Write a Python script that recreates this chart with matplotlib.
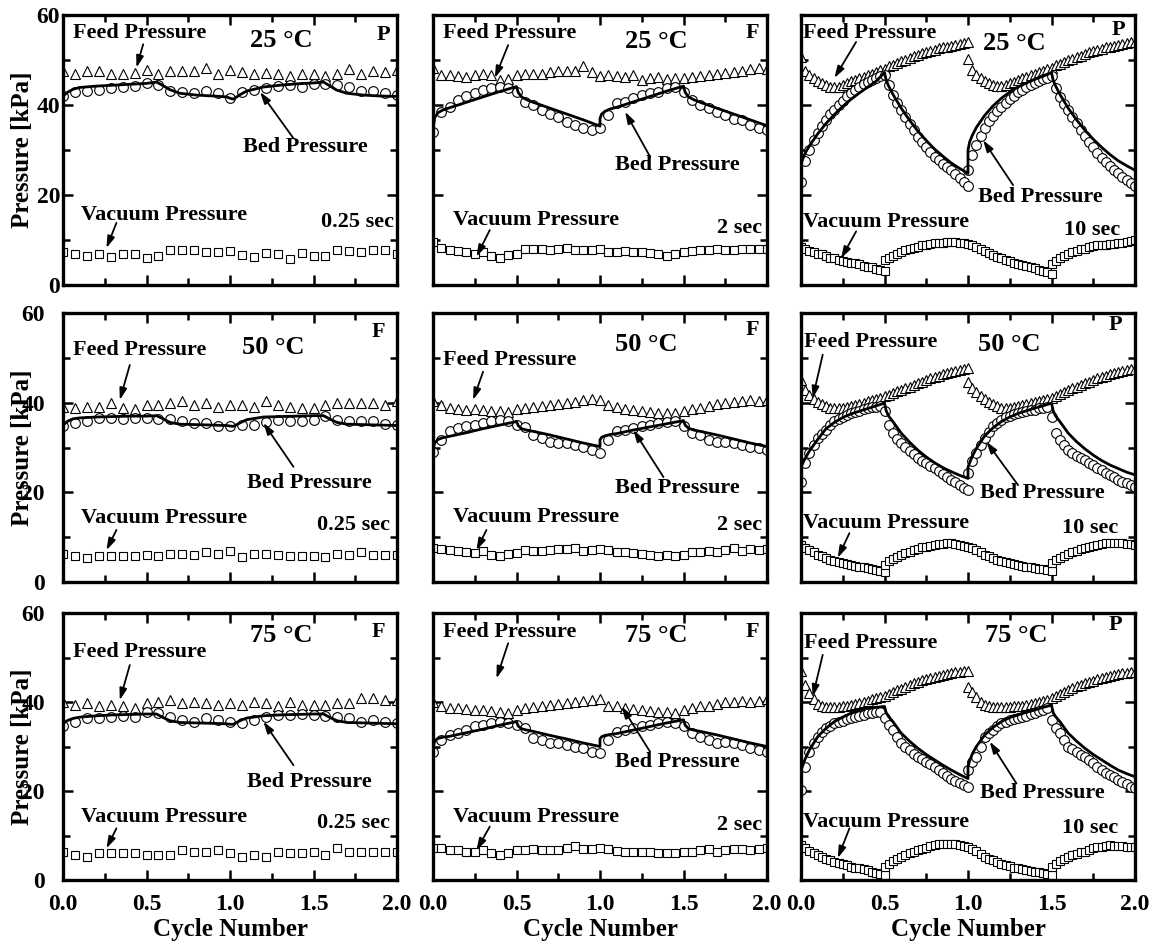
import numpy as np
import matplotlib
matplotlib.use('Agg')
import matplotlib.pyplot as plt
from matplotlib.ticker import MultipleLocator

plt.rcParams['font.family'] = ['Liberation Serif', 'DejaVu Serif']
plt.rcParams['font.weight'] = 'bold'
plt.rcParams['axes.labelweight'] = 'bold'

# sampling grids (cycle number)
t_short = np.linspace(0, 2, 29)
t_mid = np.linspace(0, 2, 41)
t_long = np.r_[np.linspace(0, 1, 41), np.linspace(1, 2, 41)]
t_long_vac = np.r_[np.linspace(0, .5, 21), np.linspace(.5, 1.5, 41), np.linspace(1.5, 2, 21)]

model_x_short = [0, 0.03, 0.06, 0.1, 0.2, 0.3, 0.4, 0.5, 0.56, 0.6, 0.64, 0.7, 0.8, 0.9, 0.98,
                 1.0, 1.02, 1.06, 1.1, 1.2, 1.3, 1.4, 1.5, 1.56, 1.6, 1.64, 1.7, 1.8, 1.9, 2.0]
model_x_mid = [0, 0.01, 0.03, 0.06, 0.1, 0.2, 0.3, 0.4, 0.5, 0.51, 0.53, 0.56, 0.6, 0.7, 0.8, 0.9,
               1.0, 1.0, 1.01, 1.03, 1.06, 1.1, 1.2, 1.3, 1.4, 1.5, 1.51, 1.53, 1.56, 1.6, 1.7,
               1.8, 1.9, 2.0]
model_x_long = [0, 0.025, 0.05, 0.1, 0.15, 0.2, 0.25, 0.3, 0.35, 0.4, 0.45, 0.5, 0.51, 0.525, 0.55,
                0.6, 0.65, 0.7, 0.75, 0.8, 0.85, 0.9, 0.95, 1.0, 1.0, 1.01, 1.025, 1.05, 1.1, 1.15,
                1.2, 1.25, 1.3, 1.35, 1.4, 1.45, 1.5, 1.51, 1.525, 1.55, 1.6, 1.65, 1.7, 1.75, 1.8,
                1.85, 1.9, 1.95, 2.0]

# ---- 25 C ----
feed_25_short = [47.5, 46.9, 47.5, 47.5, 46.9, 46.9, 47.2, 47.8, 47.0, 47.5, 47.5, 47.5, 48.2, 47.0,
                 47.7, 47.3, 47.0, 47.2, 46.8, 46.4, 47.0, 47.0, 46.5, 46.8, 47.9, 46.9, 47.6, 47.3, 47.8]
bed_25_short = [41.9, 42.8, 43.2, 43.4, 43.7, 44.0, 44.2, 44.9, 44.5, 43.2, 43.0, 42.7, 43.1, 42.6,
                41.6, 42.8, 43.3, 43.8, 44.2, 44.5, 43.9, 44.6, 44.6, 44.5, 44.0, 43.2, 43.1, 42.6, 42.3]
vac_25_short = [7.3, 6.8, 6.5, 6.8, 6.3, 6.8, 6.8, 6.0, 6.5, 7.7, 7.7, 7.7, 7.3, 7.3, 7.6, 6.6, 6.3,
                7.2, 6.8, 5.7, 7.2, 6.5, 6.5, 7.8, 7.6, 7.3, 7.8, 7.8, 6.8]
model_25_short = [42.0, 42.9, 43.5, 43.9, 44.2, 44.4, 44.6, 44.8, 45.1, 44.3, 43.4, 42.6, 42.2, 42.0,
                  41.8, 41.5, 41.3, 42.3, 43.1, 44.0, 44.4, 44.7, 44.9, 45.1, 44.2, 43.3, 42.6, 42.2,
                  42.0, 41.9]

feed_25_mid = [48.3, 46.7, 46.6, 46.5, 46.3, 46.7, 46.9, 46.6, 45.6, 45.8, 46.6, 46.8, 46.9, 47.0,
               47.3, 47.6, 47.5, 47.6, 48.6, 47.4, 46.4, 46.6, 46.5, 46.3, 46.6, 45.6, 45.9, 46.2,
               45.8, 46.0, 46.0, 46.3, 46.5, 46.7, 46.9, 47.1, 47.3, 47.6, 47.9, 48.3, 48.1]
bed_25_mid = [34.1, 38.5, 39.6, 41.1, 41.9, 42.6, 43.3, 43.7, 43.9, 43.7, 43.0, 40.7, 40.0, 38.9,
              38.1, 37.4, 36.3, 35.6, 34.8, 34.4, 34.8, 37.8, 40.4, 40.7, 41.5, 42.2, 42.6, 43.0,
              43.7, 44.1, 43.0, 41.1, 40.0, 39.3, 38.5, 37.8, 37.0, 36.7, 35.6, 34.8, 34.4]
vac_25_mid = [9.5, 8.3, 7.8, 7.6, 7.3, 6.9, 7.4, 6.4, 6.0, 6.6, 7.0, 7.9, 8.1, 7.9, 7.8, 7.9, 8.2,
              7.8, 7.8, 7.8, 7.9, 7.3, 7.4, 7.6, 7.3, 7.4, 7.2, 6.9, 6.4, 7.0, 7.4, 7.6, 7.7, 7.8,
              8.1, 7.7, 7.8, 8.1, 8.1, 8.0, 8.1]
model_25_mid = [34.5, 37.2, 38.3, 38.9, 39.4, 40.6, 41.8, 43.0, 44.1, 42.8, 41.8, 41.2, 40.6, 39.3,
                38.0, 36.7, 35.3, 37.0, 38.0, 38.6, 39.1, 39.5, 40.7, 41.9, 43.1, 44.2, 42.8, 41.8,
                41.2, 40.6, 39.3, 38.0, 36.7, 35.4]

feed_25_long = [50.7, 47.6, 46.6, 45.9, 45.3, 44.8, 44.4, 44.1, 44.0, 44.1, 44.4, 44.9, 45.3, 45.6,
                46.0, 46.3, 46.7, 47.0, 47.4, 47.7, 48.1, 48.6, 49.0, 49.4, 49.8, 50.1, 50.5, 50.8,
                51.1, 51.5, 51.8, 52.0, 52.3, 52.6, 52.8, 53.0, 53.2, 53.4, 53.5, 53.7, 53.9,
                50.2, 47.8, 46.7, 45.9, 45.3, 44.8, 44.5, 44.3, 44.3, 44.5, 44.8, 45.2, 45.5, 45.9,
                46.2, 46.6, 46.9, 47.3, 47.6, 47.9, 48.3, 48.8, 49.2, 49.6, 50.0, 50.3, 50.7, 51.0,
                51.3, 51.7, 52.0, 52.2, 52.5, 52.8, 53.0, 53.2, 53.4, 53.6, 53.8, 53.9, 54.1]
bed_25_long = [23.0, 27.5, 30.0, 32.2, 33.8, 35.3, 36.6, 37.9, 39.0, 40.0, 41.0, 41.9, 42.7, 43.4,
               44.0, 44.6, 45.1, 45.6, 46.0, 46.4, 46.7, 44.5, 42.3, 40.5, 38.9, 37.3, 35.8, 34.4,
               33.0, 31.8, 30.6, 29.5, 28.5, 27.7, 26.9, 26.2, 25.5, 24.6, 23.7, 22.8, 21.9,
               25.5, 29.0, 31.2, 33.2, 35.0, 36.4, 37.6, 38.7, 39.6, 40.5, 41.3, 42.1, 42.8, 43.4,
               44.0, 44.5, 45.0, 45.4, 45.8, 46.1, 46.4, 43.8, 41.8, 40.2, 38.8, 37.3, 35.9, 34.5,
               33.1, 31.8, 30.6, 29.4, 28.2, 27.3, 26.4, 25.6, 24.8, 24.0, 23.3, 22.7, 22.1]
vac_25_long = [8.5, 7.9, 7.6, 7.3, 7.0, 6.8, 6.4, 6.1, 5.9, 5.6, 5.4, 5.2, 4.9, 4.8, 4.6, 4.3, 4.1,
               3.9, 3.6, 3.4, 3.2,
               5.5, 6.1, 6.5, 6.9, 7.3, 7.7, 8.0, 8.3, 8.5, 8.8, 8.9, 9.1, 9.3, 9.3, 9.4, 9.5, 9.6,
               9.5, 9.4, 9.4, 9.2, 8.8, 8.4, 8.0, 7.5, 7.1, 6.6, 6.3, 5.9, 5.6, 5.3, 5.0, 4.6, 4.4,
               4.2, 4.0, 3.7, 3.4, 3.1, 2.8, 2.5,
               4.6, 5.3, 5.9, 6.4, 6.9, 7.3, 7.6, 7.9, 8.1, 8.4, 8.6, 8.8, 8.9, 9.0, 9.1, 9.2, 9.3,
               9.4, 9.5, 9.7, 9.9]
model_25_long = [27.0, 29.3, 30.9, 33.6, 35.9, 37.9, 39.7, 41.3, 42.7, 44.0, 45.3, 47.2,
                 45.5, 44.2, 42.4,
                 39.3, 36.6, 34.2, 32.1, 30.2, 28.6, 27.1, 25.9, 24.8,
                 30.0, 31.8, 33.2, 35.0,
                 37.7, 39.8, 41.5, 42.9, 44.0, 44.9, 45.7, 46.4, 47.2,
                 45.5, 44.2, 42.4,
                 39.3, 36.7, 34.4, 32.4, 30.6, 29.0, 27.6, 26.5, 25.5]

# ---- 50 C ----
feed_50_short = [39.1, 38.8, 39.1, 39.1, 39.9, 38.8, 38.5, 39.5, 39.5, 39.9, 40.3, 39.5, 39.9, 39.1,
                 39.5, 39.5, 39.1, 40.3, 39.5, 39.1, 38.8, 38.8, 39.5, 39.9, 39.9, 39.9, 39.9, 39.5, 40.3]
bed_50_short = [34.7, 35.4, 35.8, 36.5, 36.5, 36.3, 36.5, 36.5, 36.3, 36.3, 35.8, 35.4, 35.4, 34.7,
                34.7, 35.1, 35.1, 35.6, 36.2, 35.8, 36.0, 36.2, 37.1, 36.2, 36.0, 35.8, 35.8, 35.3, 35.1]
vac_50_short = [6.2, 5.7, 5.3, 5.7, 5.7, 5.7, 5.9, 6.0, 5.7, 6.2, 6.2, 6.0, 6.8, 6.2, 7.0, 5.5, 6.2,
                6.2, 6.0, 5.7, 5.9, 5.7, 5.5, 6.2, 6.0, 6.8, 6.0, 6.0, 6.0]
model_50_short = [35.0, 35.9, 36.4, 36.6, 36.8, 36.9, 37.0, 37.0, 37.1, 36.4, 35.6, 35.2, 35.1, 35.0,
                  34.9, 34.8, 34.7, 35.5, 36.2, 36.8, 36.9, 37.0, 37.1, 37.1, 36.3, 35.6, 35.2, 35.1,
                  35.0, 34.9]

feed_50_mid = [40.3, 39.5, 38.8, 38.6, 38.4, 38.6, 38.4, 38.2, 38.1, 38.0, 38.6, 38.8, 39.0, 39.3,
               39.5, 39.7, 39.9, 40.1, 40.6, 40.9, 40.6, 39.5, 39.1, 38.6, 38.4, 38.2, 38.0, 37.8,
               37.8, 37.6, 38.2, 38.6, 38.9, 39.3, 39.6, 40.0, 40.1, 40.3, 40.5, 40.4, 40.6]
bed_50_mid = [29.1, 31.7, 33.6, 34.3, 34.7, 35.0, 35.4, 35.8, 36.2, 36.0, 35.0, 34.5, 32.8, 32.1,
              31.3, 31.0, 31.0, 30.6, 30.2, 29.5, 28.7, 31.7, 33.6, 33.9, 34.3, 34.7, 35.0, 35.4,
              35.6, 35.8, 34.7, 33.2, 32.8, 31.7, 31.3, 31.3, 31.0, 30.6, 30.2, 29.8, 29.5]
vac_50_mid = [7.6, 7.4, 7.2, 7.0, 6.6, 6.5, 6.9, 6.1, 5.7, 6.2, 6.5, 7.1, 7.0, 7.0, 7.1, 7.3, 7.4,
              7.6, 7.0, 7.2, 7.4, 7.1, 6.6, 6.8, 6.4, 6.2, 6.0, 5.9, 6.1, 5.9, 6.0, 6.6, 6.6, 7.0,
              6.6, 7.2, 7.5, 7.0, 7.4, 7.1, 7.4]
model_50_mid = [29.5, 31.0, 31.8, 32.2, 32.5, 33.3, 34.2, 35.0, 35.8, 34.9, 34.2, 33.9, 33.6, 32.8,
                31.9, 31.0, 30.2, 31.7, 32.3, 32.6, 32.9, 33.1, 33.9, 34.6, 35.3, 36.0, 35.0, 34.3,
                33.9, 33.6, 32.8, 31.9, 31.0, 30.2]

feed_50_long = [45.0, 42.8, 41.6, 40.8, 40.2, 39.6, 39.2, 38.9, 38.8, 38.8, 38.9, 39.1, 39.3, 39.5,
                39.7, 40.0, 40.3, 40.6, 40.9, 41.1, 41.4, 41.8, 42.2, 42.5, 42.9, 43.3, 43.6, 44.0,
                44.3, 44.7, 45.0, 45.4, 45.7, 46.0, 46.3, 46.6, 46.9, 47.1, 47.3, 47.5, 47.7,
                44.7, 43.3, 42.4, 41.5, 40.8, 40.1, 39.6, 39.2, 38.9, 38.8, 38.9, 39.0, 39.2, 39.4,
                39.6, 39.9, 40.2, 40.4, 40.6, 40.8, 41.1, 41.5, 41.9, 42.3, 42.8, 43.2, 43.6, 43.9,
                44.3, 44.7, 45.0, 45.4, 45.7, 46.0, 46.3, 46.6, 46.9, 47.1, 47.3, 47.4, 47.5]
bed_50_long = [22.4, 26.5, 28.7, 30.6, 32.1, 33.1, 33.9, 35.0, 35.8, 36.3, 36.8, 37.2, 37.6, 37.9,
               38.2, 38.5, 38.8, 39.0, 39.1, 39.3, 38.2, 35.0, 33.2, 32.0, 31.0, 30.1, 29.3, 28.5,
               27.6, 27.0, 26.5, 25.9, 25.4, 24.7, 24.1, 23.4, 22.8, 22.2, 21.6, 21.0, 20.5,
               24.3, 27.0, 28.8, 30.6, 32.1, 33.5, 34.7, 35.5, 36.2, 36.7, 37.1, 37.4, 37.6, 37.9,
               38.1, 38.3, 38.4, 38.7, 38.9, 39.1, 36.8, 33.2, 31.7, 30.5, 29.5, 28.8, 28.2, 27.6,
               27.2, 26.6, 26.1, 25.5, 25.0, 24.4, 23.9, 23.4, 22.8, 22.4, 22.0, 21.6, 21.3]
vac_50_long = [8.3, 7.6, 7.1, 6.6, 6.1, 5.7, 5.3, 4.9, 4.6, 4.4, 4.2, 4.0, 3.8, 3.6, 3.4, 3.3, 3.1,
               2.9, 2.7, 2.5, 2.3,
               3.9, 4.6, 5.1, 5.6, 6.0, 6.5, 6.8, 7.1, 7.4, 7.7, 7.9, 8.1, 8.3, 8.4, 8.5, 8.6, 8.6,
               8.4, 8.2, 8.1, 7.9, 7.5, 7.1, 6.6, 6.1, 5.7, 5.3, 4.9, 4.6, 4.4, 4.2, 4.0, 3.8, 3.6,
               3.4, 3.3, 3.1, 2.9, 2.8, 2.6, 2.5,
               4.2, 4.8, 5.3, 5.8, 6.3, 6.7, 7.0, 7.3, 7.5, 7.8, 8.0, 8.3, 8.5, 8.6, 8.8, 8.7, 8.6,
               8.6, 8.5, 8.4, 8.3]
model_50_long = [25.7, 27.6, 29.2, 31.8, 34.2, 35.6, 36.7, 37.5, 38.1, 38.7, 39.3, 39.9,
                 38.2, 37.0, 35.8,
                 33.2, 31.2, 29.4, 27.9, 26.6, 25.5, 24.6, 23.8, 23.1,
                 25.6, 26.6, 28.0, 29.8,
                 32.6, 34.4, 35.8, 36.8, 37.6, 38.2, 38.8, 39.3, 39.9,
                 38.2, 37.0, 35.8,
                 33.2, 31.3, 29.7, 28.3, 27.1, 26.1, 25.3, 24.5, 23.9]

# ---- 75 C ----
feed_75_short = [40.1, 39.3, 39.7, 39.0, 39.3, 39.0, 38.6, 39.7, 40.1, 40.4, 39.7, 40.1, 39.7, 39.3,
                 39.7, 39.3, 40.1, 39.7, 39.0, 40.1, 39.3, 39.3, 39.3, 39.7, 39.7, 40.8, 40.8, 40.4, 40.4]
bed_75_short = [34.5, 35.6, 36.3, 36.3, 36.7, 36.8, 36.7, 37.8, 37.5, 36.7, 36.0, 35.6, 36.3, 36.0,
                35.6, 35.2, 36.0, 36.7, 37.1, 37.1, 37.3, 37.1, 36.9, 36.7, 36.3, 35.6, 36.0, 35.6, 35.2]
vac_75_short = [6.4, 5.6, 5.2, 6.0, 6.0, 6.0, 6.0, 5.6, 5.6, 5.6, 6.7, 6.4, 6.4, 6.7, 6.0, 5.2, 5.6,
                5.2, 6.4, 6.0, 6.0, 6.4, 5.6, 7.1, 6.4, 6.4, 6.4, 6.4, 6.4]
model_75_short = [35.2, 35.9, 36.3, 36.6, 36.9, 37.1, 37.2, 37.3, 37.3, 36.5, 35.8, 35.4, 35.3, 35.2,
                  35.1, 35.0, 35.0, 35.8, 36.4, 36.9, 37.1, 37.2, 37.3, 37.3, 36.5, 35.8, 35.4, 35.3,
                  35.2, 35.1]

feed_75_mid = [40.1, 39.0, 38.6, 38.6, 38.4, 38.3, 38.2, 38.0, 37.8, 37.6, 38.3, 38.6, 38.9, 39.2,
               39.3, 39.5, 39.8, 40.0, 40.3, 40.5, 40.6, 39.2, 39.0, 38.6, 38.4, 38.2, 38.0, 37.8,
               37.7, 37.5, 38.2, 38.6, 39.0, 39.2, 39.6, 40.0, 40.1, 40.2, 40.0, 40.3, 40.6]
bed_75_mid = [28.8, 31.5, 32.6, 33.0, 33.7, 34.5, 34.8, 35.2, 35.6, 35.2, 34.8, 34.1, 31.8, 31.5,
              30.7, 30.7, 30.3, 30.0, 29.6, 28.8, 28.5, 31.5, 33.3, 33.7, 34.1, 34.5, 34.8, 35.2,
              35.4, 35.2, 34.5, 33.0, 32.2, 31.5, 30.7, 31.1, 30.7, 30.3, 29.6, 29.2, 28.8]
vac_75_mid = [7.3, 7.1, 6.8, 6.7, 6.2, 6.4, 6.8, 6.0, 5.7, 6.1, 6.7, 6.7, 7.0, 6.8, 6.8, 6.8, 7.3,
              7.6, 6.9, 6.9, 7.1, 6.9, 6.6, 6.4, 6.4, 6.2, 6.2, 6.1, 6.1, 6.0, 6.3, 6.4, 6.7, 6.9,
              6.4, 6.8, 7.0, 7.0, 6.8, 7.0, 7.2]
model_75_mid = [29.5, 31.3, 31.8, 32.1, 32.3, 33.1, 33.9, 34.8, 35.6, 34.6, 34.0, 33.7, 33.4, 32.5,
                31.7, 30.8, 30.0, 31.7, 32.2, 32.5, 32.7, 32.9, 33.7, 34.5, 35.3, 36.0, 34.8, 34.0,
                33.7, 33.4, 32.6, 31.7, 30.8, 30.0]

feed_75_long = [47.0, 43.8, 42.0, 40.6, 39.6, 39.1, 38.9, 38.9, 38.9, 38.9, 39.0, 39.1, 39.3, 39.5,
                39.7, 39.9, 40.3, 40.6, 40.9, 41.1, 41.3, 41.9, 42.3, 42.6, 43.0, 43.4, 43.8, 44.2,
                44.6, 44.9, 45.2, 45.5, 45.7, 45.9, 46.1, 46.3, 46.5, 46.7, 46.8, 46.9, 47.0,
                43.4, 42.2, 41.2, 40.1, 39.3, 39.0, 38.8, 38.8, 38.8, 38.8, 38.9, 39.0, 39.0, 39.2,
                39.4, 39.6, 39.7, 40.0, 40.3, 40.5, 40.8, 41.3, 41.8, 42.2, 42.7, 43.1, 43.5, 43.9,
                44.2, 44.5, 44.8, 45.1, 45.3, 45.6, 45.8, 46.0, 46.3, 46.5, 46.6, 46.7, 46.8]
bed_75_long = [20.2, 25.4, 28.8, 30.8, 32.2, 33.2, 34.1, 34.7, 35.2, 35.5, 35.8, 36.1, 36.3, 36.6,
               36.9, 37.1, 37.5, 37.6, 37.7, 37.8, 36.5, 34.8, 33.7, 32.2, 30.7, 29.9, 29.2, 28.4,
               27.7, 27.1, 26.6, 26.0, 25.5, 24.8, 24.1, 23.4, 22.8, 22.3, 21.8, 21.4, 21.0,
               24.7, 26.5, 27.7, 30.0, 32.2, 33.0, 33.7, 34.5, 35.2, 35.6, 35.9, 36.1, 36.3, 36.6,
               36.9, 37.2, 37.5, 37.9, 38.3, 38.7, 36.0, 34.2, 33.0, 31.5, 30.0, 29.4, 28.8, 28.2,
               27.7, 27.0, 26.2, 25.4, 24.7, 24.1, 23.6, 23.1, 22.5, 22.0, 21.5, 21.0, 20.6]
vac_75_long = [7.9, 7.2, 6.6, 6.1, 5.6, 5.2, 4.8, 4.4, 4.1, 3.8, 3.6, 3.3, 3.0, 2.8, 2.6, 2.4, 2.2,
               1.9, 1.6, 1.3, 1.1,
               3.0, 3.7, 4.2, 4.7, 5.2, 5.6, 6.0, 6.4, 6.7, 7.0, 7.3, 7.6, 7.9, 8.0, 8.1, 8.2, 8.2,
               8.1, 7.9, 7.7, 7.5, 7.0, 6.5, 5.8, 5.2, 4.8, 4.4, 4.0, 3.7, 3.4, 3.1, 2.8, 2.6, 2.4,
               2.2, 2.0, 1.9, 1.7, 1.5, 1.3, 1.1,
               2.9, 3.7, 4.3, 4.8, 5.2, 5.6, 5.9, 6.2, 6.4, 6.8, 7.1, 7.4, 7.5, 7.7, 7.8, 7.7, 7.6,
               7.6, 7.5, 7.5, 7.5]
model_75_long = [24.7, 27.2, 29.2, 32.2, 34.1, 35.6, 36.6, 37.5, 38.1, 38.6, 38.8, 39.0,
                 37.6, 36.7, 35.6,
                 33.0, 31.2, 29.6, 28.2, 27.0, 25.8, 24.7, 23.7, 22.8,
                 25.5, 26.8, 28.3, 30.0,
                 32.6, 34.3, 35.6, 36.5, 37.1, 37.7, 38.2, 38.8, 39.3,
                 37.6, 36.7, 35.6,
                 33.0, 31.2, 29.6, 28.2, 27.0, 25.8, 24.7, 23.9, 23.2]

x_ticks = [0, 0.5, 1.0, 1.5, 2.0]
x_ticklabels = ['0.0', '0.5', '1.0', '1.5', '2.0']
y_ticks = [0, 20, 40, 60]
y_ticklabels = ['0', '20', '40', '60']

temps = ['25 \u00b0C', '50 \u00b0C', '75 \u00b0C']
step_labels = ['0.25 sec', '2 sec', '10 sec']
modes = [['P', 'F', 'P'], ['F', 'F', 'P'], ['F', 'F', 'P']]

series = {
    (0, 0): (t_short, feed_25_short, bed_25_short, t_short, vac_25_short, model_x_short, model_25_short),
    (0, 1): (t_mid, feed_25_mid, bed_25_mid, t_mid, vac_25_mid, model_x_mid, model_25_mid),
    (0, 2): (t_long, feed_25_long, bed_25_long, t_long_vac, vac_25_long, model_x_long, model_25_long),
    (1, 0): (t_short, feed_50_short, bed_50_short, t_short, vac_50_short, model_x_short, model_50_short),
    (1, 1): (t_mid, feed_50_mid, bed_50_mid, t_mid, vac_50_mid, model_x_mid, model_50_mid),
    (1, 2): (t_long, feed_50_long, bed_50_long, t_long_vac, vac_50_long, model_x_long, model_50_long),
    (2, 0): (t_short, feed_75_short, bed_75_short, t_short, vac_75_short, model_x_short, model_75_short),
    (2, 1): (t_mid, feed_75_mid, bed_75_mid, t_mid, vac_75_mid, model_x_mid, model_75_mid),
    (2, 2): (t_long, feed_75_long, bed_75_long, t_long_vac, vac_75_long, model_x_long, model_75_long),
}

# label placement per panel: feed text, feed arrow, temp, mode, bed text, bed arrow,
# vacuum text, vacuum arrow, step time (right edge)
layout = {
    (0, 0): [(0.06, 56), ((0.48, 53.5), (0.44, 48.3)), (1.12, 54.4), (1.88, 55.6),
             (1.08, 30.7), ((1.38, 32.6), (1.18, 42.9)), (0.11, 15.6), ((0.32, 13.8), (0.26, 8.2)),
             (1.98, 14.0)],
    (0, 1): [(0.06, 56), ((0.45, 53.3), (0.37, 46.0)), (1.15, 54.0), (1.87, 55.9),
             (1.09, 26.7), ((1.30, 28.5), (1.15, 38.5)), (0.12, 14.4), ((0.34, 12.2), (0.26, 6.3)),
             (1.97, 12.6)],
    (0, 2): [(0.01, 56), ((0.33, 54.0), (0.20, 46.0)), (1.09, 53.7), (1.86, 56.7),
             (1.06, 19.6), ((1.27, 22.2), (1.09, 32.2)), (0.01, 14.1), ((0.33, 11.9), (0.24, 5.9)),
             (1.91, 12.2)],
    (1, 0): [(0.06, 51.8), ((0.40, 48.4), (0.34, 40.6)), (1.07, 52.2), (1.85, 55.8),
             (1.10, 22.1), ((1.38, 25.7), (1.20, 35.5)), (0.11, 14.3), ((0.32, 11.6), (0.26, 7.1)),
             (1.96, 12.7)],
    (1, 1): [(0.06, 49.5), ((0.30, 46.9), (0.24, 40.6)), (1.09, 52.9), (1.87, 56.2),
             (1.09, 21.0), ((1.38, 23.4), (1.20, 33.9)), (0.12, 14.5), ((0.32, 11.6), (0.26, 7.1)),
             (1.97, 12.7)],
    (1, 2): [(0.02, 53.6), ((0.13, 50.7), (0.07, 41.0)), (1.06, 52.9), (1.84, 57.4),
             (1.07, 19.9), ((1.30, 21.6), (1.11, 31.3)), (0.01, 13.2), ((0.29, 10.9), (0.22, 5.4)),
             (1.90, 12.1)],
    (2, 0): [(0.06, 51.3), ((0.40, 48.3), (0.34, 40.4)), (1.12, 55.0), (1.85, 55.8),
             (1.10, 22.1), ((1.38, 25.8), (1.20, 35.6)), (0.11, 14.2), ((0.32, 11.6), (0.26, 7.1)),
             (1.96, 12.7)],
    (2, 1): [(0.06, 55.8), ((0.45, 53.2), (0.38, 45.3)), (1.15, 55.0), (1.87, 55.8),
             (1.09, 26.6), ((1.30, 28.8), (1.13, 39.0)), (0.12, 14.2), ((0.34, 12.0), (0.26, 6.7)),
             (1.97, 12.4)],
    (2, 2): [(0.02, 53.2), ((0.13, 50.6), (0.07, 41.2)), (1.10, 55.0), (1.84, 57.3),
             (1.07, 19.5), ((1.29, 21.7), (1.13, 31.1)), (0.01, 13.1), ((0.29, 11.6), (0.22, 4.9)),
             (1.90, 11.6)],
}

W, H = 1156, 944
fig = plt.figure(figsize=(W / 100, H / 100), dpi=100)

col_left = [63, 433, 801]
row_bottom = [659, 362, 64]
row_height = [270, 269, 267]
ax_w = 334

arrow_kw = dict(arrowstyle='-|>,head_length=0.7,head_width=0.22', color='k', lw=1.3,
                shrinkA=0, shrinkB=0)
txt_size = 16

for r in range(3):
    for c in range(3):
        ax = fig.add_axes([col_left[c] / W, row_bottom[r] / H, ax_w / W, row_height[r] / H])
        t, feed, bed, tv, vac, mx, my = series[(r, c)]
        ms = 7.0
        ax.plot(t, feed, ls='none', marker='^', ms=ms, mfc='white', mec='k', mew=0.8)
        ax.plot(t, bed, ls='none', marker='o', ms=ms, mfc='white', mec='k', mew=0.8)
        ax.plot(mx, my, color='k', lw=2.0)
        ax.plot(tv, vac, ls='none', marker='s', ms=5.5, mfc='white', mec='k', mew=0.8)

        ax.set_xlim(0, 2)
        ax.set_ylim(0, 60)
        ax.set_xticks(x_ticks)
        ax.xaxis.set_minor_locator(MultipleLocator(0.25))
        ax.set_yticks(y_ticks)
        ax.yaxis.set_minor_locator(MultipleLocator(10))
        ax.tick_params(which='both', direction='in', top=True, right=True, width=1.8)
        ax.tick_params(which='major', length=7)
        ax.tick_params(which='minor', length=5)
        ax.tick_params(axis='both', labelsize=17)
        for sp in ax.spines.values():
            sp.set_linewidth(2.4)

        if c == 0:
            ax.tick_params(axis='y', pad=2 if r == 0 else 13)
            ax.set_yticklabels(y_ticklabels)
        else:
            ax.set_yticklabels([])
        if r == 2:
            ax.set_xticklabels(x_ticklabels)
            ax.tick_params(axis='x', pad=10)
            ax.set_xlabel('Cycle Number', fontsize=18, fontweight='bold', labelpad=2)
        else:
            ax.set_xticklabels([])

        L = layout[(r, c)]
        ax.text(L[0][0], L[0][1], 'Feed Pressure', fontsize=txt_size, va='center', ha='left')
        ax.annotate('', xy=L[1][1], xytext=L[1][0], arrowprops=arrow_kw)
        ax.text(L[2][0], L[2][1], temps[r], fontsize=19, va='center', ha='left')
        ax.text(L[3][0], L[3][1], modes[r][c], fontsize=txt_size, va='center', ha='left')
        ax.text(L[4][0], L[4][1], 'Bed Pressure', fontsize=txt_size, va='center', ha='left')
        ax.annotate('', xy=L[5][1], xytext=L[5][0], arrowprops=arrow_kw)
        ax.text(L[6][0], L[6][1], 'Vacuum Pressure', fontsize=txt_size, va='center', ha='left')
        ax.annotate('', xy=L[7][1], xytext=L[7][0], arrowprops=arrow_kw)
        ax.text(L[8][0], L[8][1], step_labels[c], fontsize=txt_size, va='center', ha='right')

    yc = (row_bottom[r] + row_height[r] / 2) / H
    fig.text(23 / W, yc, 'Pressure [kPa]', rotation=90, fontsize=18, ha='center', va='center')

fig.savefig('out.png', dpi=100)
